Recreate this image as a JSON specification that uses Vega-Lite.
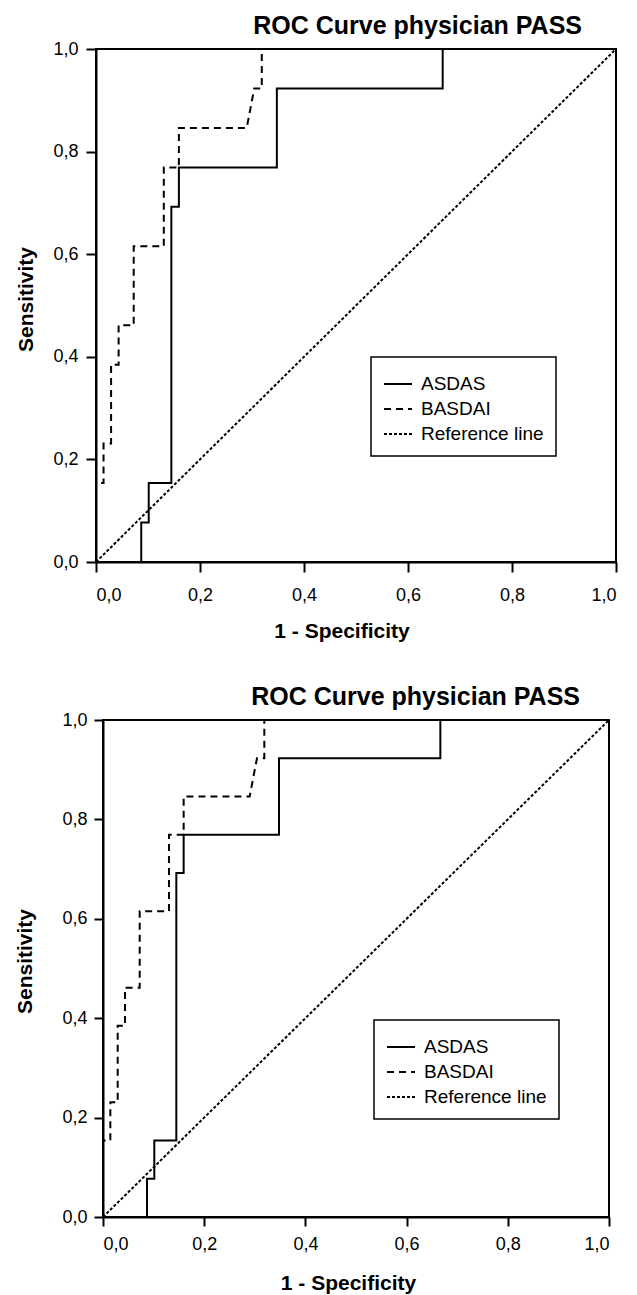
{
  "$schema": "https://vega.github.io/schema/vega-lite/v6.json",
  "background": "white",
  "padding": {"left": 13, "top": 13, "right": 0, "bottom": 0},
  "autosize": {"type": "pad"},
  "spacing": 42,
  "bounds": "full",
  "center": true,
  "resolve": {"scale": {"strokeDash": "independent", "strokeWidth": "independent"}, "legend": {"strokeDash": "independent"}},
  "config": {
    "font": "Liberation Sans",
    "view": {"stroke": "black", "strokeWidth": 2},
    "axis": {
      "domainColor": "black", "domainWidth": 2, "tickColor": "black", "tickWidth": 2, "tickSize": 10,
      "grid": false, "labelColor": "black", "labelFontSize": 18, "labelFont": "Liberation Sans",
      "titleFont": "Liberation Sans", "titleFontSize": 21, "titleFontWeight": "bold", "titleColor": "black"
    },
    "legend": {
      "strokeColor": "black", "strokeWidth": 1.5, "padding": 12, "rowPadding": 0,
      "symbolStrokeColor": "black", "symbolStrokeWidth": 2, "symbolSize": 784, "symbolType": "stroke",
      "labelFontSize": 19, "labelColor": "black", "labelFont": "Liberation Sans", "labelOffset": 8
    }
  },
  "datasets": {
    "roc": [
      {"curve": "Reference line", "order": 1, "fpr": 0, "tpr": 0},
      {"curve": "Reference line", "order": 2, "fpr": 1, "tpr": 1},
      {"curve": "BASDAI", "order": 1, "fpr": 0, "tpr": 0},
      {"curve": "BASDAI", "order": 2, "fpr": 0, "tpr": 0.1538},
      {"curve": "BASDAI", "order": 3, "fpr": 0.0145, "tpr": 0.1538},
      {"curve": "BASDAI", "order": 4, "fpr": 0.0145, "tpr": 0.2308},
      {"curve": "BASDAI", "order": 5, "fpr": 0.029, "tpr": 0.2308},
      {"curve": "BASDAI", "order": 6, "fpr": 0.029, "tpr": 0.3846},
      {"curve": "BASDAI", "order": 7, "fpr": 0.0435, "tpr": 0.3846},
      {"curve": "BASDAI", "order": 8, "fpr": 0.0435, "tpr": 0.4615},
      {"curve": "BASDAI", "order": 9, "fpr": 0.0725, "tpr": 0.4615},
      {"curve": "BASDAI", "order": 10, "fpr": 0.0725, "tpr": 0.6154},
      {"curve": "BASDAI", "order": 11, "fpr": 0.1304, "tpr": 0.6154},
      {"curve": "BASDAI", "order": 12, "fpr": 0.1304, "tpr": 0.7692},
      {"curve": "BASDAI", "order": 13, "fpr": 0.1594, "tpr": 0.7692},
      {"curve": "BASDAI", "order": 14, "fpr": 0.1594, "tpr": 0.8462},
      {"curve": "BASDAI", "order": 15, "fpr": 0.2899, "tpr": 0.8462},
      {"curve": "BASDAI", "order": 16, "fpr": 0.3043, "tpr": 0.9231},
      {"curve": "BASDAI", "order": 17, "fpr": 0.3188, "tpr": 0.9231},
      {"curve": "BASDAI", "order": 18, "fpr": 0.3188, "tpr": 1},
      {"curve": "BASDAI", "order": 19, "fpr": 1, "tpr": 1},
      {"curve": "ASDAS", "order": 1, "fpr": 0, "tpr": 0},
      {"curve": "ASDAS", "order": 2, "fpr": 0.087, "tpr": 0},
      {"curve": "ASDAS", "order": 3, "fpr": 0.087, "tpr": 0.0769},
      {"curve": "ASDAS", "order": 4, "fpr": 0.1014, "tpr": 0.0769},
      {"curve": "ASDAS", "order": 5, "fpr": 0.1014, "tpr": 0.1538},
      {"curve": "ASDAS", "order": 6, "fpr": 0.1449, "tpr": 0.1538},
      {"curve": "ASDAS", "order": 7, "fpr": 0.1449, "tpr": 0.6923},
      {"curve": "ASDAS", "order": 8, "fpr": 0.1594, "tpr": 0.6923},
      {"curve": "ASDAS", "order": 9, "fpr": 0.1594, "tpr": 0.7692},
      {"curve": "ASDAS", "order": 10, "fpr": 0.3478, "tpr": 0.7692},
      {"curve": "ASDAS", "order": 11, "fpr": 0.3478, "tpr": 0.9231},
      {"curve": "ASDAS", "order": 12, "fpr": 0.6667, "tpr": 0.9231},
      {"curve": "ASDAS", "order": 13, "fpr": 0.6667, "tpr": 1},
      {"curve": "ASDAS", "order": 14, "fpr": 1, "tpr": 1}
    ]
  },
  "vconcat": [
    {
      "width": 520,
      "height": 513,
      "title": {"text": "ROC Curve physician PASS", "anchor": "end", "dx": -38, "fontSize": 25, "fontWeight": "bold", "font": "Liberation Sans", "color": "black", "offset": 1},
      "data": {"name": "roc"},
      "mark": {"type": "line", "color": "black"},
      "encoding": {
        "x": {"field": "fpr", "type": "quantitative", "scale": {"domain": [0, 1], "nice": false},
          "axis": {"title": "1 - Specificity", "values": [0, 0.2, 0.4, 0.6, 0.8, 1],
            "labelExpr": "replace(format(datum.value, '.1f'), '.', ',')", "labelPadding": 14,
            "titleX": 245.5, "titleY": 75, "titleBaseline": "alphabetic"}},
        "y": {"field": "tpr", "type": "quantitative", "scale": {"domain": [0, 1], "nice": false},
          "axis": {"title": "Sensitivity", "values": [0, 0.2, 0.4, 0.6, 0.8, 1],
            "labelExpr": "replace(format(datum.value, '.1f'), '.', ',')", "labelPadding": 8,
            "titleX": -63.5, "titleY": 250, "titleBaseline": "alphabetic", "titleAngle": -90}},
        "strokeDash": {"field": "curve", "type": "nominal",
          "scale": {"domain": ["ASDAS", "BASDAI", "Reference line"], "range": [[1, 0], [7, 5], [3, 2]]},
          "legend": {"title": null, "orient": "none", "legendX": 275, "legendY": 308}},
        "strokeWidth": {"field": "curve", "type": "nominal",
          "scale": {"domain": ["ASDAS", "BASDAI", "Reference line"], "range": [2, 2, 1.5]}, "legend": null},
        "order": {"field": "order", "type": "quantitative"}
      }
    },
    {
      "width": 506,
      "height": 497,
      "title": {"text": "ROC Curve physician PASS", "anchor": "end", "dx": -33, "fontSize": 25, "fontWeight": "bold", "font": "Liberation Sans", "color": "black", "offset": 1},
      "data": {"name": "roc"},
      "mark": {"type": "line", "color": "black"},
      "encoding": {
        "x": {"field": "fpr", "type": "quantitative", "scale": {"domain": [0, 1], "nice": false},
          "axis": {"title": "1 - Specificity", "values": [0, 0.2, 0.4, 0.6, 0.8, 1],
            "labelExpr": "replace(format(datum.value, '.1f'), '.', ',')", "labelPadding": 9, "tickSize": 9,
            "titleX": 245, "titleY": 72, "titleBaseline": "alphabetic"}},
        "y": {"field": "tpr", "type": "quantitative", "scale": {"domain": [0, 1], "nice": false},
          "axis": {"title": "Sensitivity", "values": [0, 0.2, 0.4, 0.6, 0.8, 1],
            "labelExpr": "replace(format(datum.value, '.1f'), '.', ',')", "labelPadding": 7, "tickSize": 9,
            "titleX": -71.5, "titleY": 241, "titleBaseline": "alphabetic", "titleAngle": -90}},
        "strokeDash": {"field": "curve", "type": "nominal",
          "scale": {"domain": ["ASDAS", "BASDAI", "Reference line"], "range": [[1, 0], [7, 5], [3, 2]]},
          "legend": {"title": null, "orient": "none", "legendX": 271, "legendY": 300}},
        "strokeWidth": {"field": "curve", "type": "nominal",
          "scale": {"domain": ["ASDAS", "BASDAI", "Reference line"], "range": [2, 2, 1.5]}, "legend": null},
        "order": {"field": "order", "type": "quantitative"}
      }
    }
  ]
}
